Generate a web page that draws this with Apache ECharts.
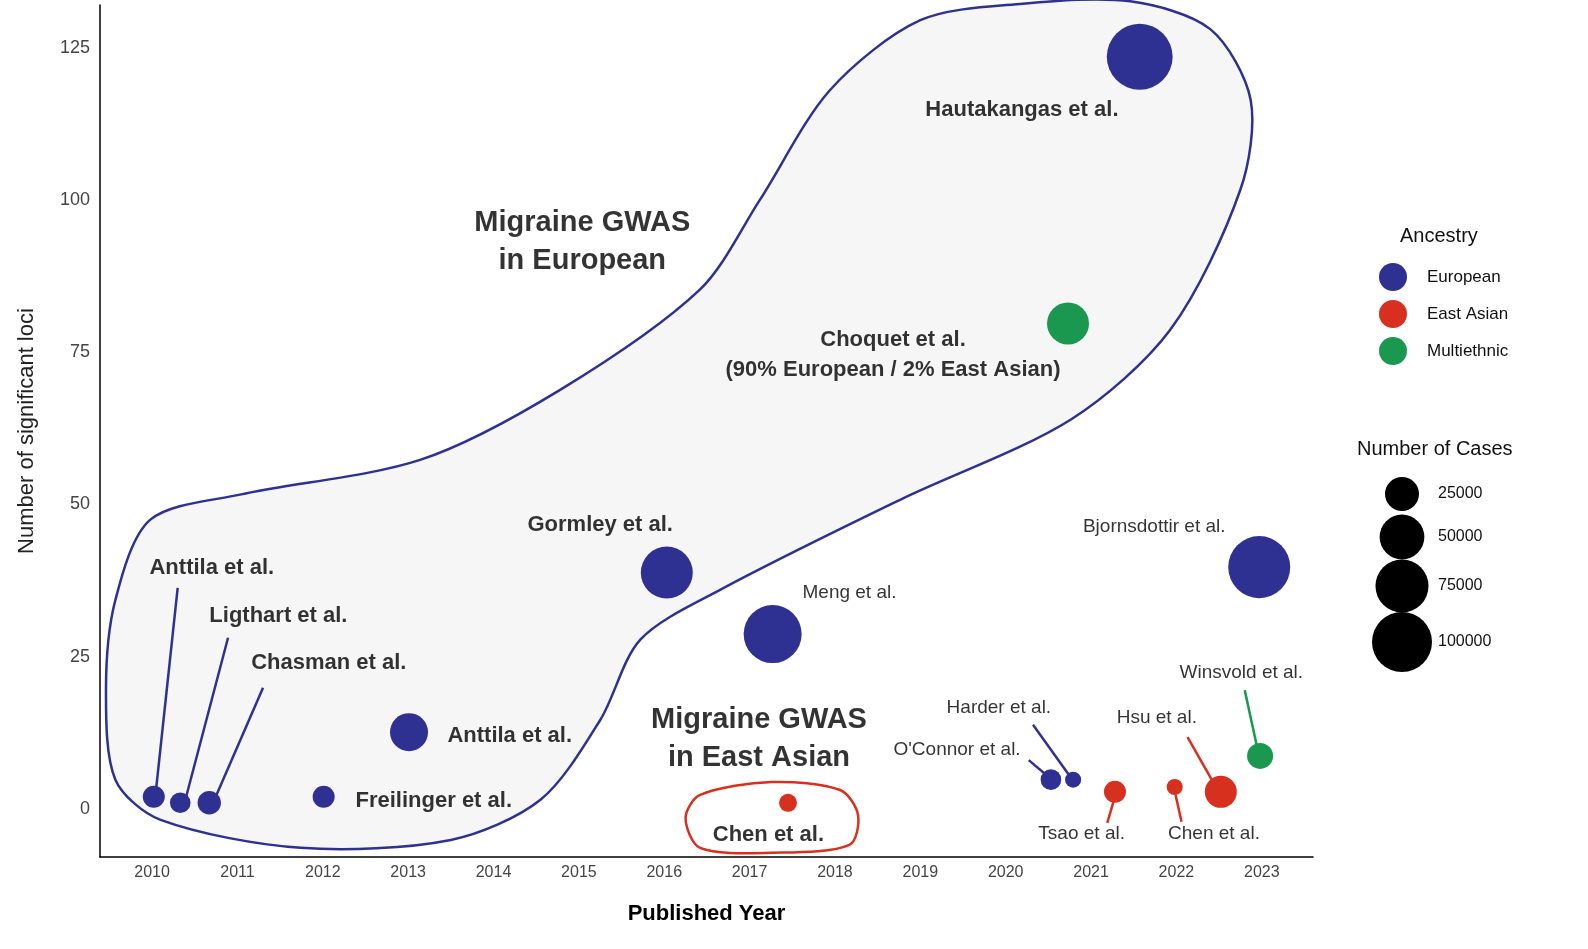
<!DOCTYPE html>
<html><head><meta charset="utf-8">
<script src="https://cdn.jsdelivr.net/npm/echarts@6/dist/echarts.min.js"></script>
<style>html,body{margin:0;background:#fff}#c{width:1588px;height:949px}</style>
</head><body><div id="c"></div>
<script>
const studies = ["Anttila 2010","Ligthart","Chasman","Freilinger","Anttila 2013","Gormley","Meng","Chen 2017","Hautakangas","Choquet","Bjornsdottir","O'Connor","Harder","Tsao","Chen 2022","Hsu","Winsvold"];
const years = [2010.02,2010.33,2010.67,2012.01,2013.01,2016.03,2017.27,2017.45,2021.57,2020.73,2022.97,2020.53,2020.79,2021.28,2021.98,2022.52,2022.98];
const loci = [2,1,1,2,12.6,38.8,28.7,1,123.5,79.7,39.7,4.8,4.8,2.8,3.6,2.8,8.7];
const cases = [7250,5900,8800,7250,33300,71600,92500,3700,124000,42800,108000,5900,2400,7250,2400,21300,12000];
const ancestry = ["European","European","European","European","European","European","European","East Asian","European","Multiethnic","European","European","European","East Asian","East Asian","East Asian","Multiethnic"];
const colors = {"European":"#2E3192","East Asian":"#D7301F","Multiethnic":"#1A9850"};
const xTicks = [2010,2011,2012,2013,2014,2015,2016,2017,2018,2019,2020,2021,2022,2023];
const yTicks = [0,25,50,75,100,125];
const legendCases = [25000,50000,75000,100000];

const labelTexts = ["Anttila et al.","Ligthart et al.","Chasman et al.","Anttila et al.","Freilinger et al.","Gormley et al.","Meng et al.","Hautakangas et al.","Choquet et al.\n(90% European / 2% East Asian)","Bjornsdottir et al.","Winsvold et al.","Harder et al.","O'Connor et al.","Hsu et al.","Tsao et al.","Chen et al.","Chen et al.","Migraine GWAS\nin European","Migraine GWAS\nin East Asian"];
const labelX = [2010.70,2011.48,2012.07,2014.19,2013.30,2015.25,2018.17,2020.19,2018.68,2021.74,2022.76,2019.92,2019.43,2021.77,2020.89,2022.44,2017.22,2015.04,2017.11];
const labelY = [39.6,31.7,24.0,12.0,1.3,46.6,35.5,114.7,74.5,46.3,22.3,16.6,9.7,14.9,-4.1,-4.1,-4.3,93.1,11.5];
const labelKind = ["b","b","b","b","b","b","n","b","b","n","n","n","n","n","n","n","b","h","h"];

const leaders = [
 [[2010.30,36.3],[2010.04,2.3],"European"],
 [[2010.89,28.1],[2010.39,1.5],"European"],
 [[2011.30,19.9],[2010.73,1.5],"European"],
 [[2022.80,19.5],[2022.94,10.5],"Multiethnic"],
 [[2020.32,13.8],[2020.75,5.4],"European"],
 [[2020.27,8.0],[2020.49,5.4],"European"],
 [[2022.13,11.8],[2022.45,3.9],"East Asian"],
 [[2021.19,-2.3],[2021.28,2.0],"East Asian"],
 [[2022.06,-2.1],[2021.99,2.3],"East Asian"]
];
const hullPts = [[2009.46,19.5],[2009.57,34.3],[2009.98,47.5],[2011.03,51.6],[2013.14,57.3],[2014.78,68.8],[2016.42,85.3],[2017.12,100],[2017.94,118],[2019.0,129.5],[2020.2,132.2],[2021.46,132.6],[2022.4,128],[2022.87,116.4],[2022.75,101.7],[2021.93,78.7],[2020.76,63.9],[2018.77,50.8],[2016.66,36],[2015.72,27.8],[2015.25,14.6],[2014.55,1.5],[2013.5,-5.1],[2011.74,-6.4],[2010.1,-1.8],[2009.57,4.8]];
const ovalPts = [[2016.25,-1.5],[2016.42,2.3],[2017.26,4.4],[2018.06,3.1],[2018.27,-1.0],[2018.17,-5.9],[2017.26,-7.2],[2016.42,-6.4]];

const radius = n => 4 + 0.0822*Math.sqrt(n);

const polySeries = (pts, fill, stroke, z) => ({
  type:'custom', z:z, silent:true, data:[0], clip:false,
  renderItem:(p, api) => ({type:'polygon', shape:{points:pts.map(q=>api.coord(q)), smooth:0.3},
    style:{fill:fill, stroke:stroke, lineWidth:2.5}})
});

const font = 'Arial, "Liberation Sans", sans-serif';
const chart = echarts.init(document.getElementById('c'));
const legendGraphics = [];
legendGraphics.push({type:'text', left:1400, top:226, style:{text:'Ancestry', font:'20px '+font, fill:'#111'}});
["European","East Asian","Multiethnic"].forEach((a,i)=>{
  legendGraphics.push({type:'circle', shape:{cx:1393, cy:277+37*i, r:14}, style:{fill:colors[a]}});
  legendGraphics.push({type:'text', x:1427, y:277+37*i, style:{text:a, font:'17px '+font, fill:'#111', verticalAlign:'middle'}});
});
legendGraphics.push({type:'text', left:1357, top:439, style:{text:'Number of Cases', font:'20px '+font, fill:'#111'}});
const lcy=[494,537,586,642];
legendCases.forEach((n,i)=>{
  legendGraphics.push({type:'circle', shape:{cx:1402, cy:lcy[i], r:radius(n)}, style:{fill:'#000'}});
  legendGraphics.push({type:'text', x:1438, y:lcy[i], style:{text:String(n), font:'16px '+font, fill:'#111', verticalAlign:'middle'}});
});

const labelData = labelTexts.map((t,i)=>{
  const k = labelKind[i];
  return {value:[labelX[i],labelY[i]], label:{show:true, position:'inside', formatter:t,
    fontFamily:font, color:'#000', textBorderWidth:0, fontWeight: k==='n'?'normal':'bold',
    fontSize: k==='h'?29:(k==='b'?22:19), lineHeight: k==='h'?38:(k==='b'?30:24), align:'center'}};
});

chart.setOption({
  animation:false,
  grid:{left:100, right:275, top:5, bottom:92, outerBoundsMode:'none', containLabel:false},
  graphic: legendGraphics,
  xAxis:{type:'value', min:2009.39, max:2023.6, splitLine:{show:false},
    axisLine:{show:true, onZero:false, lineStyle:{color:'#000', width:1.5}}, axisTick:{show:false},
    axisLabel:{customValues:xTicks, formatter:v=>String(Math.round(v)), color:'#444', fontSize:16, fontFamily:font, margin:8},
    name:'Published Year', nameLocation:'middle', nameGap:46,
    nameTextStyle:{fontSize:22, fontWeight:'bold', color:'#000', fontFamily:font}},
  yAxis:{type:'value', min:-7.9, max:132, splitLine:{show:false},
    axisLine:{show:true, onZero:false, lineStyle:{color:'#000', width:1.5}}, axisTick:{show:false},
    axisLabel:{customValues:yTicks, color:'#444', fontSize:18, fontFamily:font, margin:10},
    name:'Number of significant loci', nameLocation:'middle', nameGap:62,
    nameTextStyle:{fontSize:22, color:'#222', fontFamily:font}},
  series:[
    polySeries(hullPts,'#f6f6f6','#2E3192',1),
    polySeries(ovalPts,'rgba(0,0,0,0)','#D7301F',1),
    ...leaders.map(l=>({type:'line', z:3, silent:true, symbol:'none', data:[l[0],l[1]],
      lineStyle:{color:colors[l[2]], width:2.5}})),
    {type:'scatter', z:5, data: years.map((x,i)=>({value:[x,loci[i]], name:studies[i],
      symbolSize:2*radius(cases[i]), itemStyle:{color:colors[ancestry[i]], opacity:1}}))},
    {type:'scatter', z:6, symbolSize:0, data:labelData, silent:true}
  ]
});
</script></body></html>
